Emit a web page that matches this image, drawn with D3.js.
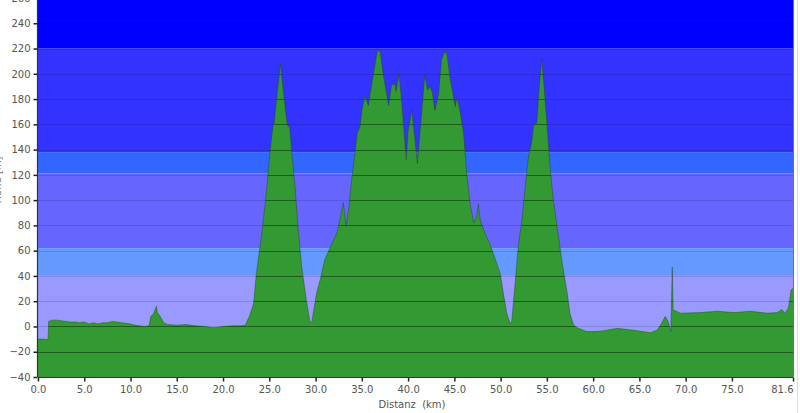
<!DOCTYPE html>
<html><head><meta charset="utf-8">
<script src="https://cdn.jsdelivr.net/npm/d3@7"></script>
<style>body{margin:0;background:#fff}svg{display:block}</style>
</head><body>
<svg id="c" width="800" height="413"></svg>
<script>
const distance = [0,0.5,1.0,1.1,1.15,1.5,2.0,2.5,3.0,3.5,4.0,4.5,5.0,5.5,6.0,6.5,7.0,7.5,8.0,8.5,9.0,9.5,10.0,10.5,11.0,11.5,12.0,12.2,12.5,12.8,12.9,13.2,13.6,14.0,15.0,16.0,17.0,18.0,19.0,20.0,21.0,22.0,22.4,22.9,23.3,23.6,24.0,24.4,24.7,25.1,25.4,25.5,26.2,26.7,26.95,27.2,27.4,27.8,28.1,28.5,29.0,29.4,29.6,30.1,30.5,31.0,31.6,32.3,32.6,33.0,33.3,33.6,33.9,34.3,34.5,34.8,35.0,35.35,35.7,36.25,36.7,37.0,37.3,37.9,38.2,38.6,38.7,39.0,39.3,39.8,40.0,40.4,40.6,41.0,41.3,41.8,42.1,42.3,42.6,42.9,43.3,43.6,43.9,44.2,44.5,45.1,45.3,45.6,46.0,46.3,46.7,47.1,47.4,47.6,47.8,48.3,48.8,49.3,49.95,50.3,50.67,51.03,51.2,51.6,51.9,52.3,52.65,53.0,53.4,53.55,53.9,54.2,54.45,54.7,55.0,55.35,55.7,56.1,56.6,57.2,57.5,57.9,58.4,59.3,60.4,61.0,62.6,64.4,66.2,66.9,67.4,67.8,68.1,68.4,68.55,68.65,69.0,69.4,71.6,73.4,75.2,77.0,78.8,79.9,80.4,80.7,81.1,81.4,81.6];
const elevation = [-10,-10,-10.5,-9,4,5,5,4.5,4,3.5,3.5,3,3.5,2,3,2,3,3,4,3.5,3,2.5,2,1,0.5,0,0.5,8,10,16,11,8,3,1.5,1,1.5,0.5,0,-1,0,0.5,0.5,1,9,18,42,63,87,108,140,159,160,208,174,159,158,140,108,79,47,21,3,4,26,37,53,63,74,84,98,79,95,116,140,153,158,171,183,175,200,219,217,200,175,191,192,186,200,179,132,155,171,158,129,155,199,187,190,186,171,184,211,217,216,198,174,182,171,153,124,97,82,87,97,84,74,66,56,42,26,10,2.5,4,37,63,84,110,134,148,159,161,192,212,190,161,126,100,79,53,26,10,1,-1.5,-4,-4,-3.5,-1.5,-3,-5,-3,2.5,8,4,-4,47,13,12,10.5,11,12,11,12,10.5,11,13.5,10.5,14.5,29,30];
const xTicks = [0,5,10,15,20,25,30,35,40,45,50,55,60,65,70,75,81.6];
const yTicks = [-40,-20,0,20,40,60,80,100,120,140,160,180,200,220,240,260];
const bandBreaks = [-40,40,62,121,138,220,260];
const bandColors = ["#9999ff","#6699ff","#6666ff","#3366ff","#3333ff","#0000ff"];
const xTitle = "Distanz  (km)";
const yTitle = "Höhe [m]";

const svg = d3.select("#c");
const x = d3.scaleLinear().domain([0,81.6]).range([38,793]);
const y = d3.scaleLinear().domain([-40,260]).range([377,-2]);
const data = distance.map((d,i)=>({d, e:elevation[i]}));

// background bands
svg.selectAll("rect.band").data(bandColors).join("rect")
  .attr("x", x(0)).attr("width", x(81.6)-x(0))
  .attr("y", (c,i)=> i===bandColors.length-1 ? 0 : y(bandBreaks[i+1]))
  .attr("height", (c,i)=> y(bandBreaks[i]) - (i===bandColors.length-1 ? 0 : y(bandBreaks[i+1])))
  .attr("fill", c=>c);

// gridlines under
const grid = yTicks.filter(t=>t>-40 && t<260);
svg.append("g").selectAll("line").data(grid).join("line")
  .attr("x1", x(0)).attr("x2", x(81.6))
  .attr("y1", d=>Math.round(y(d))+0.5).attr("y2", d=>Math.round(y(d))+0.5)
  .attr("stroke","#000").attr("stroke-opacity",0.13);

const area = d3.area().x(d=>x(d.d)).y0(y(-40)).y1(d=>y(d.e));
const line = d3.line().x(d=>x(d.d)).y(d=>y(d.e));

svg.append("clipPath").attr("id","ac").append("path").attr("d", area(data));
svg.append("path").attr("d", area(data)).attr("fill","#339933");
svg.append("g").attr("clip-path","url(#ac)").selectAll("line").data(grid).join("line")
  .attr("x1", x(0)).attr("x2", x(81.6))
  .attr("y1", d=>Math.round(y(d))+0.5).attr("y2", d=>Math.round(y(d))+0.5)
  .attr("stroke","#000").attr("stroke-opacity",0.4);
svg.append("path").attr("d", line(data)).attr("fill","none")
  .attr("stroke","#2a3a2a").attr("stroke-opacity",0.6).attr("stroke-width",0.7);

// right edge
svg.append("line").attr("x1",793.5).attr("x2",793.5).attr("y1",0).attr("y2",377)
  .attr("stroke","#667788").attr("stroke-width",1);
svg.append("line").attr("x1",797.5).attr("x2",797.5).attr("y1",0).attr("y2",413)
  .attr("stroke","#dddddd").attr("stroke-width",1);

// axes
const yAxis = d3.axisLeft(y).tickValues(yTicks).tickSize(4).tickPadding(3).tickFormat(d3.format("d"));
const gy = svg.append("g").attr("transform","translate(37.5,0)").call(yAxis);
const xAxis = d3.axisBottom(x).tickValues(xTicks).tickSize(4).tickPadding(4).tickFormat(d3.format(".1f"));
const gx = svg.append("g").attr("transform","translate(0,377.5)").call(xAxis);
[gy,gx].forEach(g=>{
  g.select(".domain").attr("stroke","#333").attr("stroke-width",1.2);
  g.selectAll(".tick line").attr("stroke","#222").attr("stroke-width",1.5);
  g.selectAll("text").attr("fill","#555").attr("font-family","DejaVu Sans, Verdana, sans-serif").attr("font-size",10);
});
gx.selectAll(".tick text").filter(d=>d===81.6).attr("text-anchor","end");
gx.select(".domain").attr("d", `M${x(0)},0H${x(81.6)}`);
gy.select(".domain").attr("d", `M0,${y(260)}V${y(-40)}`);

svg.append("text").attr("x",412).attr("y",408).attr("text-anchor","middle")
  .attr("fill","#555").attr("font-family","DejaVu Sans, Verdana, sans-serif").attr("font-size",10)
  .attr("xml:space","preserve").style("white-space","pre").text(xTitle);
svg.append("text").attr("transform","translate(1,180) rotate(-90)").attr("text-anchor","middle")
  .attr("fill","#777").attr("font-family","DejaVu Sans, Verdana, sans-serif").attr("font-size",10).text(yTitle);
</script>
</body></html>
